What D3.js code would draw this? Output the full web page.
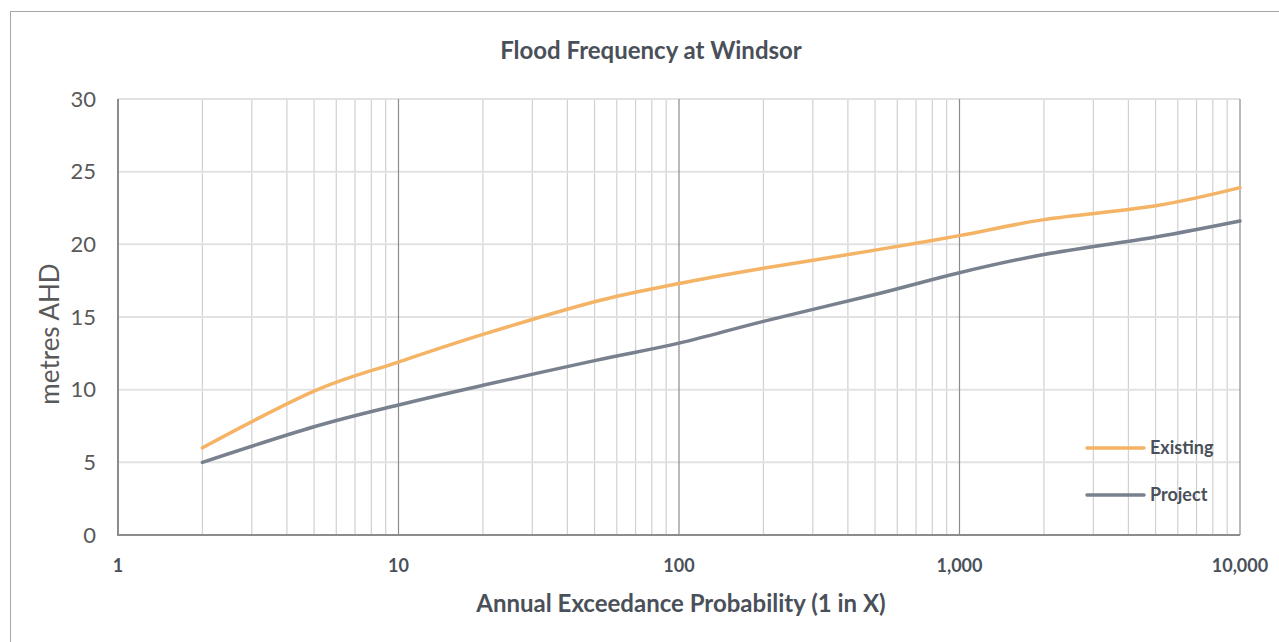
<!DOCTYPE html>
<html>
<head>
<meta charset="utf-8">
<script src="https://cdn.jsdelivr.net/npm/d3@7"></script>
<style>
  html, body { margin: 0; padding: 0; background: #fff; }
  svg { display: block; }
</style>
</head>
<body>
<svg id="chart" width="1279" height="642"></svg>
<script>
// ---- data ----
const aep = [2, 5, 10, 20, 50, 100, 200, 500, 1000, 2000, 5000, 10000];
const existing = [6.0, 9.9, 11.9, 13.8, 16.05, 17.3, 18.35, 19.6, 20.6, 21.7, 22.65, 23.9];
const project  = [5.0, 7.45, 8.95, 10.3, 12.0, 13.2, 14.7, 16.55, 18.05, 19.3, 20.5, 21.6];
const seriesNames = ["Existing", "Project"];
const yTicks = [0, 5, 10, 15, 20, 25, 30];
const xMajorTicks = [1, 10, 100, 1000, 10000];
const xTickLabels = ["1", "10", "100", "1,000", "10,000"];
const title = "Flood Frequency at Windsor";
const xTitle = "Annual Exceedance Probability (1 in X)";
const yTitle = "metres AHD";

// ---- layout ----
const svg = d3.select("#chart");
const W = 1279, H = 642;
const plot = { left: 118, right: 1240, top: 99, bottom: 535 };
const colors = { Existing: "#f5b366", Project: "#79818f" };
const font = "Lato, 'Open Sans', 'DejaVu Sans', sans-serif";

svg.append("rect").attr("width", W).attr("height", H).attr("fill", "#fff");
// chart frame (extends past the right/bottom edges)
svg.append("rect").attr("x", 10.5).attr("y", 11.5).attr("width", 1300).attr("height", 700)
  .attr("fill", "none").attr("stroke", "#a6a6a6").attr("stroke-width", 1);

const x = d3.scaleLog().domain([1, 10000]).range([plot.left, plot.right]);
const y = d3.scaleLinear().domain([0, 30]).range([plot.bottom, plot.top]);

// minor vertical gridlines
const minor = [];
for (let d = 1; d < 10000; d *= 10) for (let k = 2; k <= 9; k++) minor.push(d * k);
svg.append("g").selectAll("line").data(minor).join("line")
  .attr("x1", d => x(d)).attr("x2", d => x(d))
  .attr("y1", plot.top).attr("y2", plot.bottom)
  .attr("stroke", "#d0d0d0").attr("stroke-width", 1.2);

// horizontal gridlines
svg.append("g").selectAll("line").data(yTicks.filter(t => t > 0)).join("line")
  .attr("x1", plot.left).attr("x2", plot.right)
  .attr("y1", d => y(d)).attr("y2", d => y(d))
  .attr("stroke", "#e2e2e2").attr("stroke-width", 2);

// major vertical gridlines
svg.append("g").selectAll("line").data(xMajorTicks.slice(1)).join("line")
  .attr("x1", d => x(d)).attr("x2", d => x(d))
  .attr("y1", plot.top).attr("y2", plot.bottom)
  .attr("stroke", "#8c8c8c").attr("stroke-width", 1.2);

// axes lines
svg.append("line").attr("x1", plot.left).attr("x2", plot.left)
  .attr("y1", plot.top).attr("y2", plot.bottom + 1)
  .attr("stroke", "#8c8c8c").attr("stroke-width", 2);
svg.append("line").attr("x1", plot.left - 1).attr("x2", plot.right)
  .attr("y1", plot.bottom).attr("y2", plot.bottom)
  .attr("stroke", "#8c8c8c").attr("stroke-width", 2);

// y tick labels
svg.append("g").selectAll("text").data(yTicks).join("text")
  .attr("x", 96).attr("y", d => y(d)).attr("dy", "0.35em")
  .attr("text-anchor", "end").attr("font-family", font).attr("font-size", 22)
  .attr("fill", "#595959").text(d => d);

// x tick labels
svg.append("g").selectAll("text").data(xMajorTicks).join("text")
  .attr("x", d => x(d)).attr("y", 572)
  .attr("text-anchor", "middle").attr("font-family", font).attr("font-size", 18)
  .attr("font-weight", "bold").attr("fill", "#4a5059")
  .text((d, i) => xTickLabels[i]);

// titles
svg.append("text").attr("x", 651).attr("y", 59).attr("text-anchor", "middle")
  .attr("font-family", font).attr("font-size", 24).attr("font-weight", "bold")
  .attr("fill", "#4a5059").text(title);
svg.append("text").attr("x", 681).attr("y", 612).attr("text-anchor", "middle")
  .attr("font-family", font).attr("font-size", 24).attr("font-weight", "bold")
  .attr("fill", "#4a5059").text(xTitle);
svg.append("text").attr("transform", "translate(59,334) rotate(-90)")
  .attr("text-anchor", "middle").attr("font-family", font).attr("font-size", 26)
  .attr("fill", "#595959").text(yTitle);

// lines
const seriesData = { Existing: existing, Project: project };
const line = d3.line()
  .x(d => x(d[0])).y(d => y(d[1]))
  .curve(d3.curveCatmullRom.alpha(0));
seriesNames.forEach(name => {
  const pts = aep.map((a, i) => [a, seriesData[name][i]]);
  svg.append("path").datum(pts).attr("d", line)
    .attr("fill", "none").attr("stroke", colors[name])
    .attr("stroke-width", 3.5).attr("stroke-linecap", "round");
});

// legend
const legend = [{ name: "Existing", y: 448 }, { name: "Project", y: 495 }];
legend.forEach(l => {
  svg.append("line").attr("x1", 1087).attr("x2", 1144).attr("y1", l.y).attr("y2", l.y)
    .attr("stroke", colors[l.name]).attr("stroke-width", 3.5).attr("stroke-linecap", "round");
  svg.append("text").attr("x", 1150).attr("y", l.y).attr("dy", "0.35em")
    .attr("font-family", font).attr("font-size", 18).attr("font-weight", "bold")
    .attr("fill", "#4a5059").text(l.name);
});
</script>
</body>
</html>
